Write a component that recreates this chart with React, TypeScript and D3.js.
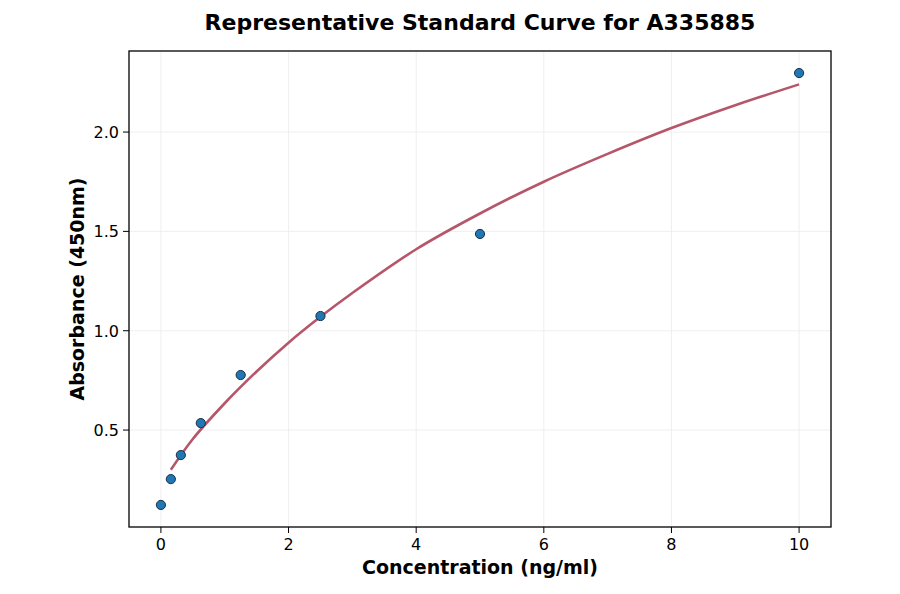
import React from "react";
import * as d3 from "d3";

const concentrations = [0, 0.156, 0.3125, 0.625, 1.25, 2.5, 5, 10];
const absorbances = [0.123, 0.253, 0.374, 0.535, 0.777, 1.074, 1.487, 2.297];

const curveX = [0.156, 0.5, 1, 1.5, 2, 2.5, 3, 4, 5, 6, 7, 8, 9, 10];
const curveY = [0.3, 0.455, 0.635, 0.795, 0.94, 1.07, 1.19, 1.41, 1.59, 1.75, 1.89, 2.02, 2.135, 2.24];

const xTicks = [0, 2, 4, 6, 8, 10];
const yTicks = [0.5, 1.0, 1.5, 2.0];

const title = "Representative Standard Curve for A335885";
const xLabel = "Concentration (ng/ml)";
const yLabel = "Absorbance (450nm)";

export default function App() {
  const W = 900, H = 594;
  const L = 129, R = 831, T = 51, B = 527;
  const x = d3.scaleLinear().domain([-0.5, 10.5]).range([L, R]);
  const y = d3.scaleLinear().domain([0.012, 2.408]).range([B, T]);
  const line = d3
    .line<number>()
    .x((_, i) => x(curveX[i]))
    .y((d) => y(d))
    .curve(d3.curveCatmullRom.alpha(0.5));
  const font = "DejaVu Sans, sans-serif";
  return (
    <svg width={W} height={H} style={{ position: "absolute", left: 0, top: 0, background: "#fff" }} fontFamily={font}>
      <rect x={0} y={0} width={W} height={H} fill="#fff" />
      <text x={480} y={30} textAnchor="middle" fontSize={22} fontWeight="bold" fill="#000">
        {title}
      </text>
      {xTicks.map((t) => (
        <line key={"gx" + t} x1={x(t)} x2={x(t)} y1={T} y2={B} stroke="#ebebeb" strokeWidth={0.8} />
      ))}
      {yTicks.map((t) => (
        <line key={"gy" + t} x1={L} x2={R} y1={y(t)} y2={y(t)} stroke="#ebebeb" strokeWidth={0.8} />
      ))}
      <path d={line(curveY) || ""} fill="none" stroke="#b5566a" strokeWidth={2.6} />
      {concentrations.map((c, i) => (
        <circle key={"p" + i} cx={x(c)} cy={y(absorbances[i])} r={4.6} fill="#1f77b4" stroke="#1a2e44" strokeWidth={1} />
      ))}
      <rect x={L} y={T} width={R - L} height={B - T} fill="none" stroke="#000" strokeWidth={1.3} />
      {xTicks.map((t) => (
        <g key={"tx" + t}>
          <line x1={x(t)} x2={x(t)} y1={B} y2={B + 6} stroke="#000" strokeWidth={1} />
          <text x={x(t)} y={B + 23} textAnchor="middle" fontSize={16} fill="#000">
            {t}
          </text>
        </g>
      ))}
      {yTicks.map((t) => (
        <g key={"ty" + t}>
          <line x1={L - 6} x2={L} y1={y(t)} y2={y(t)} stroke="#000" strokeWidth={1} />
          <text x={L - 10} y={y(t) + 6} textAnchor="end" fontSize={16} fill="#000">
            {t.toFixed(1)}
          </text>
        </g>
      ))}
      <text x={480} y={574} textAnchor="middle" fontSize={19} fontWeight="bold" fill="#000">
        {xLabel}
      </text>
      <text
        transform={`translate(84,${(T + B) / 2}) rotate(-90)`}
        textAnchor="middle"
        fontSize={19}
        fontWeight="bold"
        fill="#000"
      >
        {yLabel}
      </text>
    </svg>
  );
}
